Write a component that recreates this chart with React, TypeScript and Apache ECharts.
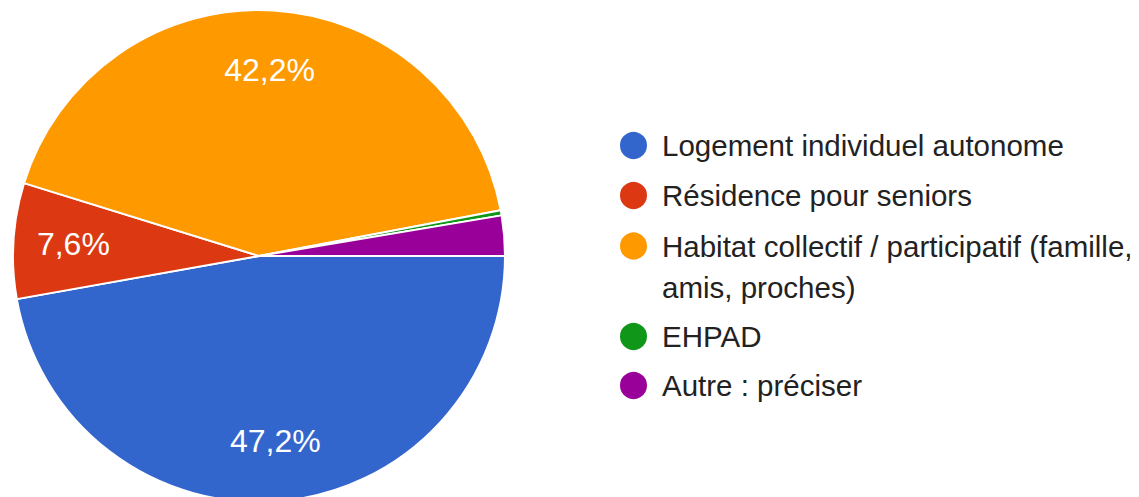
import React, { useEffect, useRef } from "react";
import * as echarts from "echarts";

const categories = [
  "Logement individuel autonome",
  "Résidence pour seniors",
  "Habitat collectif / participatif (famille, amis, proches)",
  "EHPAD",
  "Autre : préciser",
];
const counts = [143, 23, 128, 1, 8];
const colors = ["#3366CC", "#DC3912", "#FF9900", "#109618", "#990099"];

const FONT = "'Liberation Sans', Arial, sans-serif";

export default function App() {
  const ref = useRef<HTMLDivElement>(null);
  useEffect(() => {
    if (!ref.current) return;
    const chart = echarts.init(ref.current, undefined, { renderer: "svg" });
    const total = counts.reduce((a, b) => a + b, 0);
    const data = categories.map((name, i) => ({
      name,
      value: counts[i],
      itemStyle: { color: colors[i] },
    }));
    const pct = (v: number) => ((v / total) * 100).toFixed(1).replace(".", ",") + "%";
    const legendBase = {
      orient: "vertical" as const,
      left: 618,
      padding: 0,
      icon: "circle",
      itemWidth: 47,
      itemHeight: 29,
      selectedMode: false,
      textStyle: { color: "#222222", fontSize: 29.5, fontFamily: FONT, lineHeight: 29 },
    };
    chart.setOption({
      animation: false,
      backgroundColor: "#ffffff",
      legend: [
        { ...legendBase, top: 130, itemGap: 19, data: [categories[0], categories[1]] },
        {
          ...legendBase,
          top: 184.5,
          data: [categories[2]],
          formatter: (n: string) => "\n" + n.replace("(famille, ", "(famille,\n"),
          textStyle: {
            color: "#222222",
            fontSize: 29.5,
            fontFamily: FONT,
            lineHeight: 41,
          },
        },
        { ...legendBase, top: 321, itemGap: 18, data: [categories[3], categories[4]] },
      ],
      series: [
        {
          type: "pie",
          center: [259, 256],
          radius: [0, 246],
          startAngle: 0,
          clockwise: true,
          silent: true,
          avoidLabelOverlap: false,
          label: { show: false },
          labelLine: { show: false },
          itemStyle: { borderColor: "#ffffff", borderWidth: 2 },
          data,
        },
        {
          type: "pie",
          center: [259, 256],
          radius: [120, 246],
          startAngle: 0,
          clockwise: true,
          silent: true,
          legendHoverLink: false,
          avoidLabelOverlap: false,
          itemStyle: { color: "rgba(0,0,0,0)", borderWidth: 0 },
          labelLine: { show: false },
          label: {
            show: true,
            position: "inside",
            color: "#ffffff",
            fontSize: 32,
            fontFamily: FONT,
            formatter: (p: any) => (p.value / total >= 0.05 ? pct(p.value) : ""),
          },
          data: categories.map((name, i) => ({ name: name + " ", value: counts[i] })),
        },
      ],
    });
    return () => chart.dispose();
  }, []);
  return (
    <div
      ref={ref}
      style={{ position: "fixed", left: 0, top: 0, width: 1139, height: 497 }}
    />
  );
}
